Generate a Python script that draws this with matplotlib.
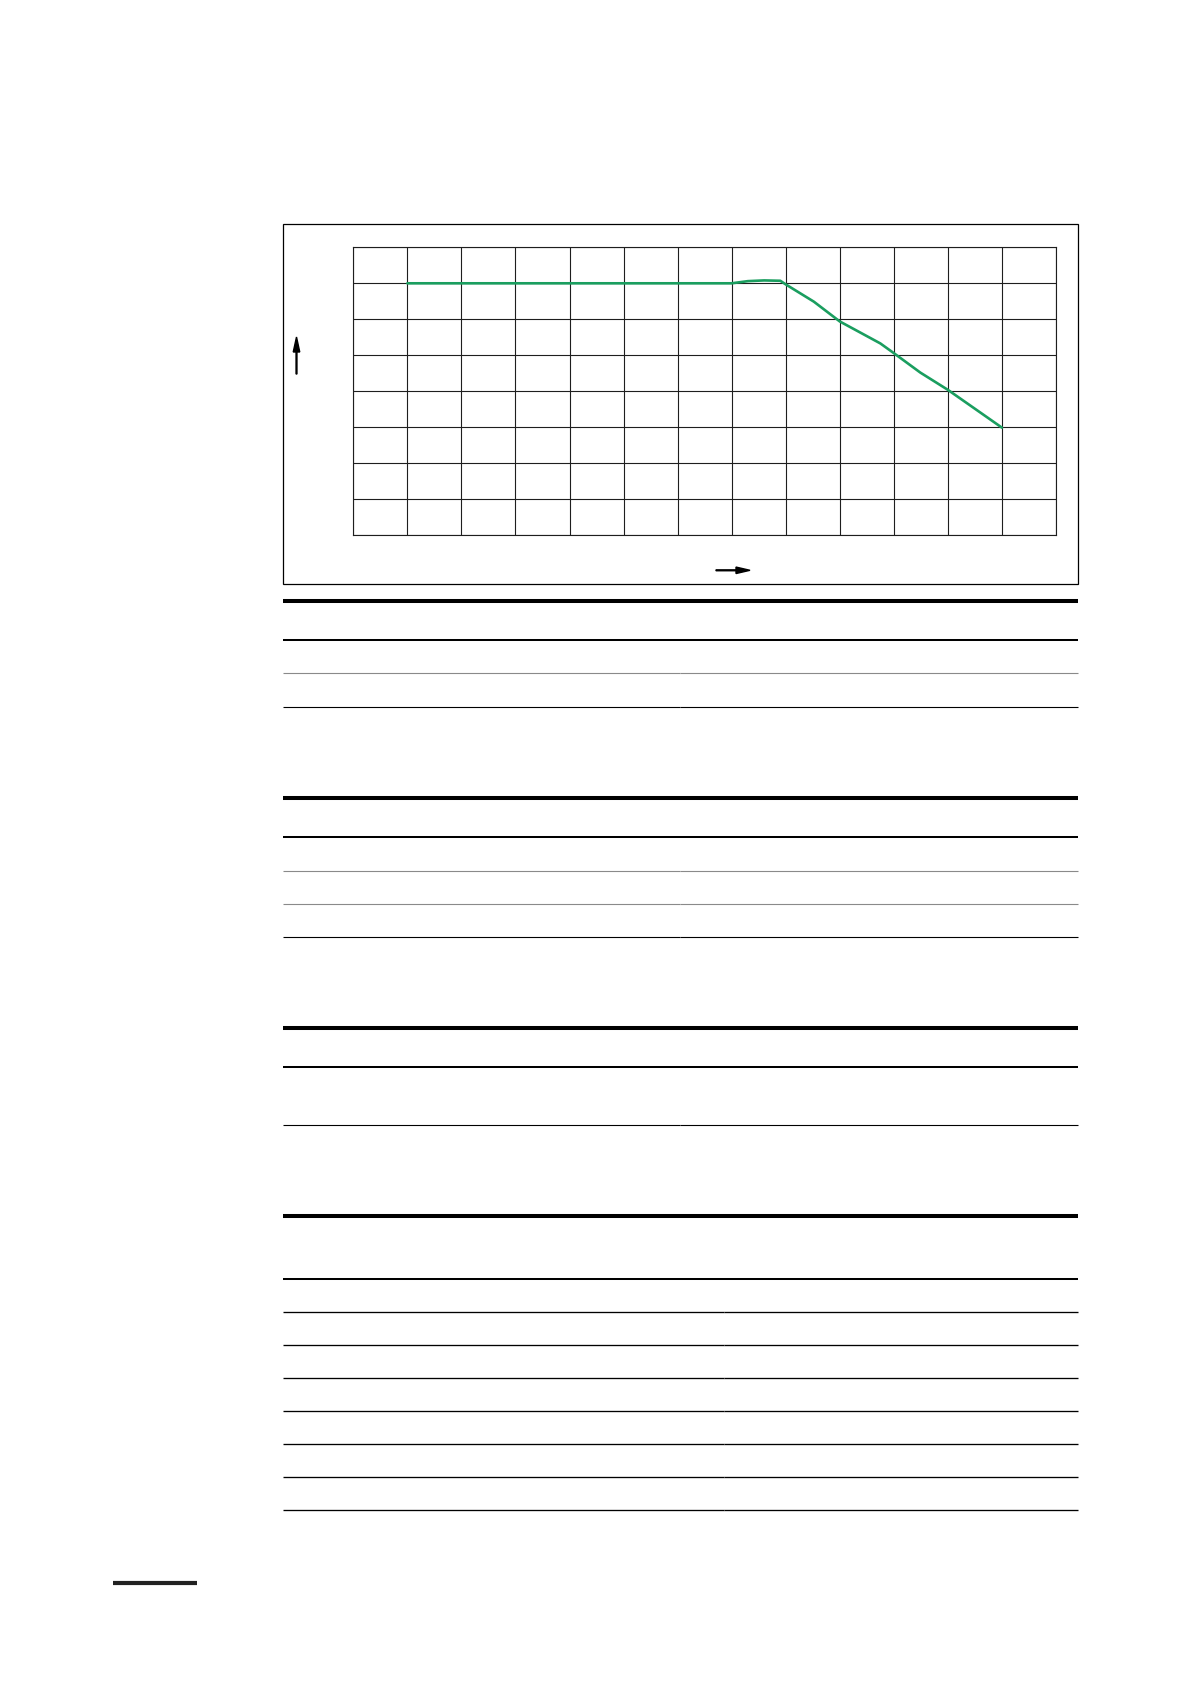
import matplotlib
matplotlib.use('Agg')
import matplotlib.pyplot as plt
from matplotlib.patches import Rectangle

# curve (grid units: 13 columns x 8 rows)
curve_x = [1, 2, 3, 4, 5, 6, 7, 7.3, 7.6, 7.9, 8.0, 8.52, 9.0, 9.32, 9.75, 10.0, 10.49, 11.0, 12.0]
curve_y = [7, 7, 7, 7, 7, 7, 7, 7.06, 7.08, 7.07, 6.97, 6.49, 5.94, 5.68, 5.33, 5.06, 4.52, 4.04, 2.99]
n_cols = 13
n_rows = 8

W, H = 1191, 1684
fig = plt.figure(figsize=(W / 100, H / 100), dpi=100)

# page overlay in pixel coordinates
page = fig.add_axes([0, 0, 1, 1], zorder=0)
page.set_xlim(0, W)
page.set_ylim(H, 0)
page.axis('off')

# frame around the chart
page.add_patch(Rectangle((283.3, 224.3), 1078.3 - 283.3, 583.7 - 224.3,
                         fill=False, ec='black', lw=0.9))

# axis direction arrows
page.arrow(296.5, 374, 0, -37, width=0.9, head_width=6.5, head_length=15,
           length_includes_head=True, fc='black', ec='black')
page.arrow(716, 570.3, 34, 0, width=0.9, head_width=6.5, head_length=14,
           length_includes_head=True, fc='black', ec='black')

# chart grid
gl, gr, gt, gb = 353.3, 1056.0, 247.3, 535.3
ax = fig.add_axes([gl / W, 1 - gb / H, (gr - gl) / W, (gb - gt) / H], zorder=1)
ax.set_xlim(0, n_cols)
ax.set_ylim(0, n_rows)
ax.set_xticks(range(n_cols + 1))
ax.set_yticks(range(n_rows + 1))
ax.set_xticklabels([])
ax.set_yticklabels([])
ax.tick_params(length=0)
ax.grid(True, color='#1e1e1e', lw=0.8)
for s in ax.spines.values():
    s.set_color('#1e1e1e')
    s.set_linewidth(0.8)
ax.plot(curve_x, curve_y, color='#1a9e5f', lw=1.9, solid_capstyle='round', zorder=3)

# tables under the chart: (y, line width in pt, colour)
thick, head, thin, grey = 2.9, 1.45, 0.8, '#8a8a8a'
tables = [
    (680, [(601, thick, 'black'), (640, head, 'black'), (673.2, thin, grey), (706.5, thin, 'black')]),
    (680, [(798, thick, 'black'), (837, head, 'black'), (870.5, thin, grey), (903.5, thin, grey),
           (936.5, thin, 'black')]),
    (680, [(1028, thick, 'black'), (1067, head, 'black'), (1124.5, thin, 'black')]),
    (724, [(1216, thick, 'black'), (1279, head, 'black')] +
          [(y, 0.95, 'black') for y in (1312.3, 1345.3, 1378.3, 1411.3, 1444.3, 1477.3, 1510.3)]),
]
for split, lines in tables:
    for y, lw, c in lines:
        page.plot([283.3, split - 0.4], [y, y], color=c, lw=lw, solid_capstyle='butt')
        page.plot([split + 0.4, 1078], [y, y], color=c, lw=lw, solid_capstyle='butt')

# footer bar
page.plot([113.3, 197.3], [1583, 1583], color='#222222', lw=3.0, solid_capstyle='butt')

fig.savefig('out.png', dpi=100)
